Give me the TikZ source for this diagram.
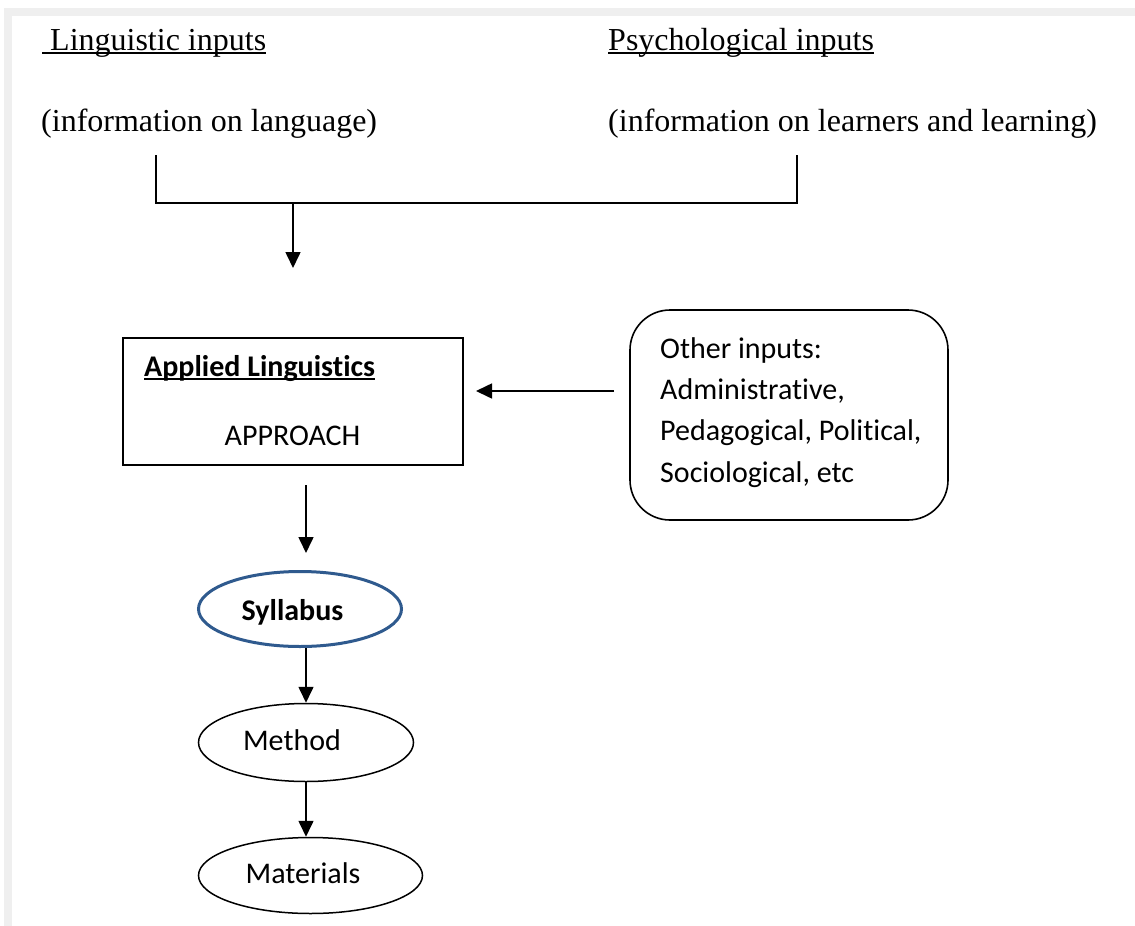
\documentclass[tikz,border=0pt]{standalone}
\usepackage{fontspec}
\setmainfont{Liberation Serif}
\newfontfamily\calibri[Ligatures=NoCommon]{Carlito}
\usetikzlibrary{arrows.meta,shapes.geometric}
\definecolor{bandgray}{HTML}{EFEFEF}
\definecolor{sylblue}{HTML}{2F5A8E}
\tikzset{
  serif/.style={inner sep=0pt, anchor=base west, font=\fontsize{32}{38}\selectfont},
  sans/.style={inner sep=0pt, anchor=base west, font=\calibri\fontsize{30}{36}\selectfont},
  arr/.style={line width=1.6pt, -{Triangle[length=16pt,width=15pt]}},
  wire/.style={line width=1.6pt},
  oval/.style={ellipse, draw, line width=1.5pt, inner sep=0pt},
}
\begin{document}
\begin{tikzpicture}[x=1pt,y=-1pt]
  % page and its grey margin bands
  \fill[white] (0,0) rectangle (1135,926);
  \useasboundingbox (0,0) rectangle (1135,926);
  \fill[bandgray] (4,8) rectangle (1135,16);
  \fill[bandgray] (4,8) rectangle (12,926);

  % inputs at the top
  \node[serif] (li) at (42,50) {\ Linguistic inputs};
  \draw[line width=1.3pt] ([yshift=-3pt]li.base west) -- ([yshift=-3pt]li.base east);
  \node[serif] (lin) at (41,131) {(information on language)};
  \node[serif] (ps) at (608,50) {Psychological inputs};
  \draw[line width=1.3pt] ([yshift=-3pt]ps.base west) -- ([yshift=-3pt]ps.base east);
  \node[serif] (psn) at (608,131) {(information on learners and learning)};

  % bracket joining both inputs
  \coordinate (bl) at (156,155);
  \coordinate (br) at (797,155);
  \coordinate (bj) at (293,203);
  \coordinate (bt) at (293,268);
  \draw[wire] (bl) |- (bj) -| (br);
  \draw[arr] (bj) -- (bt);

  % applied linguistics box
  \node[draw, line width=1.7pt, minimum width=340pt, minimum height=127pt, inner sep=0pt]
    (al) at (293,401.5) {};
  \node[sans, font=\calibri\bfseries\fontsize{30}{36}\selectfont] (alt) at (144,376) {Applied Linguistics};
  \draw[line width=1.4pt] ([yshift=-3pt]alt.base west) -- ([yshift=-3pt]alt.base east);
  \node[sans, anchor=base] (ap) at (292.5,445) {APPROACH};

  % other inputs box
  \node[draw, line width=1.6pt, rounded corners=40pt, minimum width=318pt, minimum height=210pt, inner sep=0pt]
    (ob) at (789,415) {};
  \node[sans] (o1) at (660,358) {Other inputs:};
  \node[sans] (o2) at (660,399) {Administrative,};
  \node[sans] (o3) at (660,440) {Pedagogical, Political,};
  \node[sans] (o4) at (660,482) {Sociological, etc};
  \coordinate (oa) at (614,391);
  \coordinate (ot) at (476,391);
  \draw[arr] (oa) -- (ot);

  % syllabus, method, materials
  \node[oval, draw=sylblue, line width=3pt, minimum width=203pt, minimum height=75pt] (syl) at (300,609) {};
  \node[sans, anchor=base, font=\calibri\bfseries\fontsize{30}{36}\selectfont] at (292.5,620) {Syllabus};
  \node[oval, minimum width=215pt, minimum height=78pt] (met) at (306,742.5) {};
  \node[sans, anchor=base] at (292,750) {Method};
  \node[oval, minimum width=224pt, minimum height=76pt] (mat) at (310.5,875.5) {};
  \node[sans, anchor=base] at (303,883) {Materials};

  \coordinate (aa) at (306,485);
  \coordinate (at) at (306,553);
  \draw[arr] (aa) -- (at);
  \draw[arr] (syl.south -| 306,0) -- (met.north -| 306,0);
  \draw[arr] (met.south -| 306,0) -- (mat.north -| 306,0);
\end{tikzpicture}
\end{document}
